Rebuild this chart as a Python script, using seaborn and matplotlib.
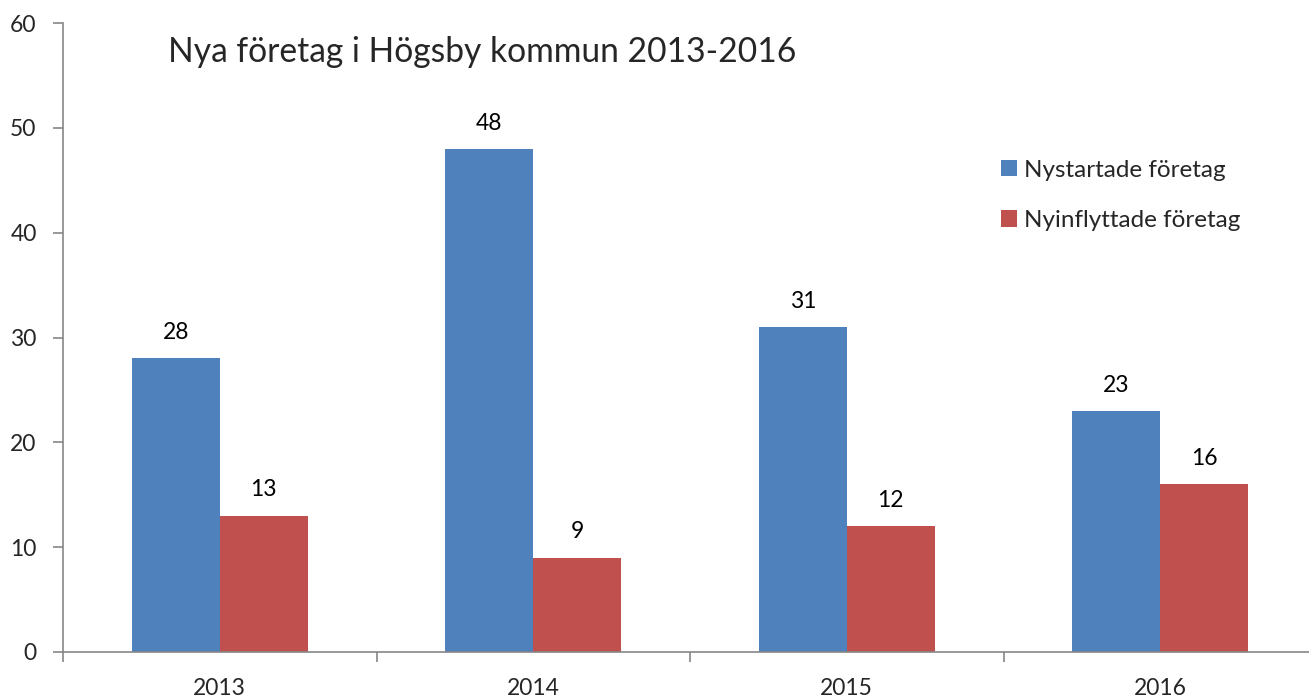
import matplotlib
matplotlib.use("Agg")
import matplotlib.pyplot as plt
import seaborn as sns
import pandas as pd
from matplotlib.patches import Patch

years = ["2013", "2014", "2015", "2016"]
nystartade = [28, 48, 31, 23]
nyinflyttade = [13, 9, 12, 16]
series_names = ["Nystartade företag", "Nyinflyttade företag"]
title = "Nya företag i Högsby kommun 2013-2016"
yticks = [0, 10, 20, 30, 40, 50, 60]
colors = ["#4F81BD", "#C0504D"]

df = pd.DataFrame({
    "year": years * 2,
    "value": nystartade + nyinflyttade,
    "series": [series_names[0]] * 4 + [series_names[1]] * 4,
})

sns.set_theme(style="white")
plt.rcParams["font.family"] = ["Lato", "DejaVu Sans"]

fig = plt.figure(figsize=(13.09, 6.97), dpi=100)
ax = fig.add_axes([63 / 1309, 1 - 652 / 697, (1317 - 63) / 1309, (652 - 23) / 697])

sns.barplot(data=df, x="year", y="value", hue="series", palette=colors,
            width=0.56, ax=ax, legend=False, saturation=1, linewidth=0)

for cont in ax.containers:
    ax.bar_label(cont, padding=11, fontsize=16.5, color="#000000")

ax.set_xlim(-0.5, 3.5)
ax.set_ylim(0, 60)
ax.set_yticks(yticks)
ax.set_yticklabels([str(t) for t in yticks], fontsize=16.5)
ax.set_xlabel("")
ax.set_ylabel("")
ax.set_xticks(range(4))
ax.set_xticklabels(years, fontsize=16.5)
ax.set_xticks([-0.5, 0.5, 1.5, 2.5, 3.5], minor=True)
ax.tick_params(axis="x", which="major", bottom=True, length=0, pad=19)
ax.tick_params(axis="x", which="minor", bottom=True, length=7, width=1.2,
               color="#868686", direction="out")
ax.tick_params(axis="y", left=True, length=7, width=1.2, color="#868686",
               direction="out", pad=12)

for s in ["top", "right"]:
    ax.spines[s].set_visible(False)
for s in ["left", "bottom"]:
    ax.spines[s].set_color("#868686")
    ax.spines[s].set_linewidth(1.2)

fig.text(168 / 1309, 1 - 52 / 697, title, fontsize=24.2, va="center", ha="left")

handles = [Patch(facecolor=c, edgecolor="none") for c in colors]
fig.legend(handles, series_names, loc="upper left", bbox_to_anchor=(979 / 1309, 1 - 138 / 697),
           frameon=False, fontsize=17.5, handlelength=0.65, handleheight=0.65,
           handletextpad=0.3, labelspacing=1.2)

fig.savefig("out.png", dpi=100)
